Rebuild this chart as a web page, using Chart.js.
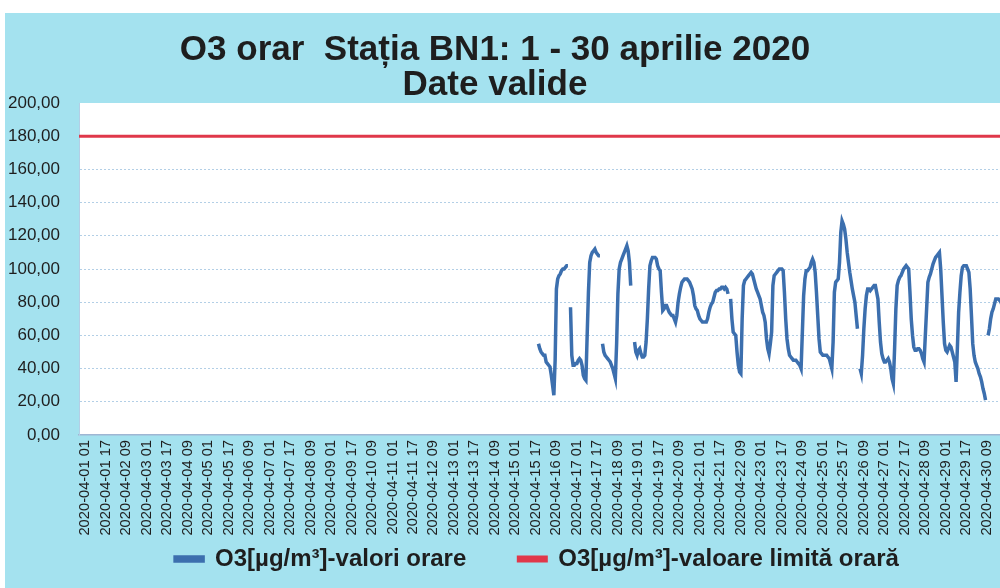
<!DOCTYPE html>
<html lang="ro">
<head>
    <meta charset="UTF-8">
    <title>O3 orar Stația BN1 - aprilie 2020</title>
    <script src="https://cdn.jsdelivr.net/npm/chart.js"></script>
    <style>
        body {
            margin: 0;
            background: #fff;
            overflow: hidden;
            width: 1000px;
            height: 588px;
        }

        .chart-box {
            position: absolute;
            left: 5px;
            top: 13px;
            width: 1010px;
            height: 620px;
            background: #a4e2ef;
        }
    </style>
</head>
<body>
    <div class="chart-box">
        <canvas id="o3Chart" width="1010" height="620"></canvas>
    </div>

    <script>
        // etichete axa X (la fiecare 16 ore)
        const tickLabels = [
            '2020-04-01 01', '2020-04-01 17', '2020-04-02 09', '2020-04-03 01', '2020-04-03 17',
            '2020-04-04 09', '2020-04-05 01', '2020-04-05 17', '2020-04-06 09', '2020-04-07 01',
            '2020-04-07 17', '2020-04-08 09', '2020-04-09 01', '2020-04-09 17', '2020-04-10 09',
            '2020-04-11 01', '2020-04-11 17', '2020-04-12 09', '2020-04-13 01', '2020-04-13 17',
            '2020-04-14 09', '2020-04-15 01', '2020-04-15 17', '2020-04-16 09', '2020-04-17 01',
            '2020-04-17 17', '2020-04-18 09', '2020-04-19 01', '2020-04-19 17', '2020-04-20 09',
            '2020-04-21 01', '2020-04-21 17', '2020-04-22 09', '2020-04-23 01', '2020-04-23 17',
            '2020-04-24 09', '2020-04-25 01', '2020-04-25 17', '2020-04-26 09', '2020-04-27 01',
            '2020-04-27 17', '2020-04-28 09', '2020-04-29 01', '2020-04-29 17', '2020-04-30 09'
        ];
        const tickStep = 16;

        // valori orare O3 (ore 01..24), zilele 1-14 fara date valide
        const apr15 = [null, null, null, null, null, null, null, null, null, null, null, null,
                       null, null, null, null, null, null, 55, 52, 50, 49, 48, 48];
        const apr16 = [44, 43, 42, 41, 36, 30, 24, 45, 88, 94, 96, 97, 99, 100, 100, 101, 102, 102, null, 77, 48, 42, 42, 43];
        const apr17 = [43, 45, 46, 45, 42, 36, 34, 33, 60, 86, 104, 108, 110, 111, 112, 110, 109, 108, 108, null, 55, 50, 48, 47];
        const apr18 = [46, 45, 44, 42, 40, 37, 34, 55, 85, 100, 104, 106, 108, 110, 112, 114, 111, 104, 90, null, null, 56, 50, 48];
        const apr19 = [51, 52, 49, 47, 47, 48, 56, 70, 88, 102, 105, 107, 107, 107, 106, 102, 100, 99, 86, 75, 76, 78, 78, 76];
        const apr20 = [74, 73, 72, 72, 70, 68, 72, 80, 85, 89, 92, 93, 94, 94, 94, 93, 92, 90, 88, 84, 78, 76, 75, 72];
        const apr21 = [70, 69, 68, 68, 68, 68, 70, 74, 77, 79, 80, 83, 86, 87, 87, 88, 88, 89, 89, 88, 89, 88, 85, null];
        const apr22 = [82, 70, 62, 61, 60, 50, 42, 38, 37, 70, 90, 93, 94, 95, 96, 97, 98, 97, 94, 91, 88, 86, 84, 82];
        const apr23 = [78, 74, 72, 68, 58, 52, 49, 55, 62, 90, 96, 97, 98, 99, 100, 100, 100, 99, 86, 70, 58, 52, 48, 47];
        const apr24 = [46, 45, 45, 45, 44, 43, 42, 40, 62, 84, 94, 99, 99, 100, 101, 104, 106, 104, 98, 86, 72, 58, 50, 49];
        const apr25 = [48, 48, 48, 48, 47, 46, 43, 40, 56, 86, 92, 93, 94, 104, 122, 129, 127, 124, 118, 110, 104, 98, 93, 88];
        const apr26 = [84, 80, 72, 64, null, 40, 37, 48, 64, 76, 84, 88, 88, 87, 88, 89, 90, 90, 86, 82, 68, 56, 49, 46];
        const apr27 = [44, 44, 45, 46, 44, 40, 34, 31, 52, 76, 90, 93, 95, 96, 98, 100, 101, 102, 101, 100, 86, 70, 60, 53];
        const apr28 = [51, 51, 52, 52, 51, 49, 46, 44, 60, 76, 92, 95, 97, 100, 103, 105, 107, 108, 109, 110, 100, 84, 68, 55];
        const apr29 = [51, 50, 52, 54, 53, 50, 47, 44, 32, 52, 74, 86, 96, 101, 102, 102, 102, 100, 98, 88, 72, 55, 48, 44];
        const apr30 = [42, 40, 37, 35, 32, 28, 25, 21, null, 60, 64, 70, 74, 76, 79, 82, 82, 82, 81, 80, 78, 77, 76, 75];

        const limitValue = 180; // valoare limita orara

        const days = [
            [15, apr15], [16, apr16], [17, apr17], [18, apr18], [19, apr19], [20, apr20],
            [21, apr21], [22, apr22], [23, apr23], [24, apr24], [25, apr25], [26, apr26],
            [27, apr27], [28, apr28], [29, apr29], [30, apr30]
        ];

        // x = index ora de la 2020-04-01 01
        const o3Points = [];
        days.forEach(([day, vals]) => {
            vals.forEach((v, i) => o3Points.push({ x: (day - 1) * 24 + i, y: v }));
        });

        const xMin = -4.7;
        const xMax = 726;
        const fontFamily = '"Liberation Sans", Arial, sans-serif';

        const plotBackground = {
            id: 'plotBackground',
            beforeDraw(chart) {
                const { ctx, chartArea: a } = chart;
                ctx.save();
                ctx.fillStyle = '#ffffff';
                ctx.fillRect(a.left, a.top, a.right - a.left, a.bottom - a.top);
                ctx.restore();
            }
        };

        // titlul si legenda nu sunt centrate pe aceeasi axa in original;
        // legenda urcata mai aproape de etichetele axei X
        const shiftBlocks = {
            id: 'shiftBlocks',
            afterLayout(chart) {
                chart.titleBlock.left -= 15;
                chart.titleBlock.right -= 15;
                chart.legend.left += 27;
                chart.legend.right += 27;
                chart.legend.top -= 41;
                chart.legend.bottom -= 41;
            }
        };

        new Chart(document.getElementById('o3Chart'), {
            type: 'line',
            data: {
                datasets: [
                    {
                        label: 'O3[µg/m³]-valori orare',
                        data: o3Points,
                        borderColor: '#3c6fae',
                        backgroundColor: '#3c6fae',
                        borderWidth: 3.5,
                        pointRadius: 0,
                        tension: 0,
                        spanGaps: false
                    },
                    {
                        label: 'O3[µg/m³]-valoare limită orară',
                        data: [{ x: xMin, y: limitValue }, { x: xMax, y: limitValue }],
                        borderColor: '#e0384a',
                        backgroundColor: '#e0384a',
                        borderWidth: 3,
                        pointRadius: 0
                    }
                ]
            },
            options: {
                responsive: false,
                animation: false,
                layout: { padding: { left: 0, right: 0, top: 0, bottom: 11 } },
                scales: {
                    x: {
                        type: 'linear',
                        min: xMin,
                        max: xMax,
                        afterBuildTicks(scale) {
                            scale.ticks = tickLabels.map((l, i) => ({ value: i * tickStep }));
                        },
                        afterFit(scale) { scale.height = 101; },
                        grid: { display: false, drawTicks: false },
                        border: { display: true, color: '#9fb6d3', width: 1.5, dash: [2, 1] },
                        ticks: {
                            autoSkip: false,
                            minRotation: 90,
                            maxRotation: 90,
                            padding: 5,
                            color: '#1e1e1e',
                            font: { family: fontFamily, size: 14.7 },
                            callback: (v) => tickLabels[Math.round(v / tickStep)]
                        }
                    },
                    y: {
                        min: 0,
                        max: 200,
                        afterFit(scale) { scale.width = 74; },
                        grid: {
                            color: (c) => c.tick.value === 200 || c.tick.value === 0 ? 'rgba(0,0,0,0)' : '#b3cfe6',
                            lineWidth: 1,
                            drawTicks: false
                        },
                        border: { display: true, color: '#b3cfe6', dash: [2, 2] },
                        ticks: {
                            stepSize: 20,
                            padding: 19,
                            color: '#1e1e1e',
                            font: { family: fontFamily, size: 17 },
                            callback: (v) => v.toFixed(2).replace('.', ',')
                        }
                    }
                },
                plugins: {
                    title: {
                        display: true,
                        text: ['O3 orar  Stația BN1: 1 - 30 aprilie 2020', 'Date valide'],
                        color: '#1e1e1e',
                        font: { family: fontFamily, size: 35, weight: 'bold', lineHeight: 1.0 },
                        padding: { top: 20, bottom: 0 }
                    },
                    legend: {
                        position: 'bottom',
                        labels: {
                            boxWidth: 28,
                            boxHeight: 4,
                            padding: 52,
                            color: '#1e1e1e',
                            font: { family: fontFamily, size: 24, weight: 'bold' }
                        }
                    },
                    tooltip: { enabled: false }
                }
            },
            plugins: [plotBackground, shiftBlocks]
        });
    </script>
</body>
</html>
